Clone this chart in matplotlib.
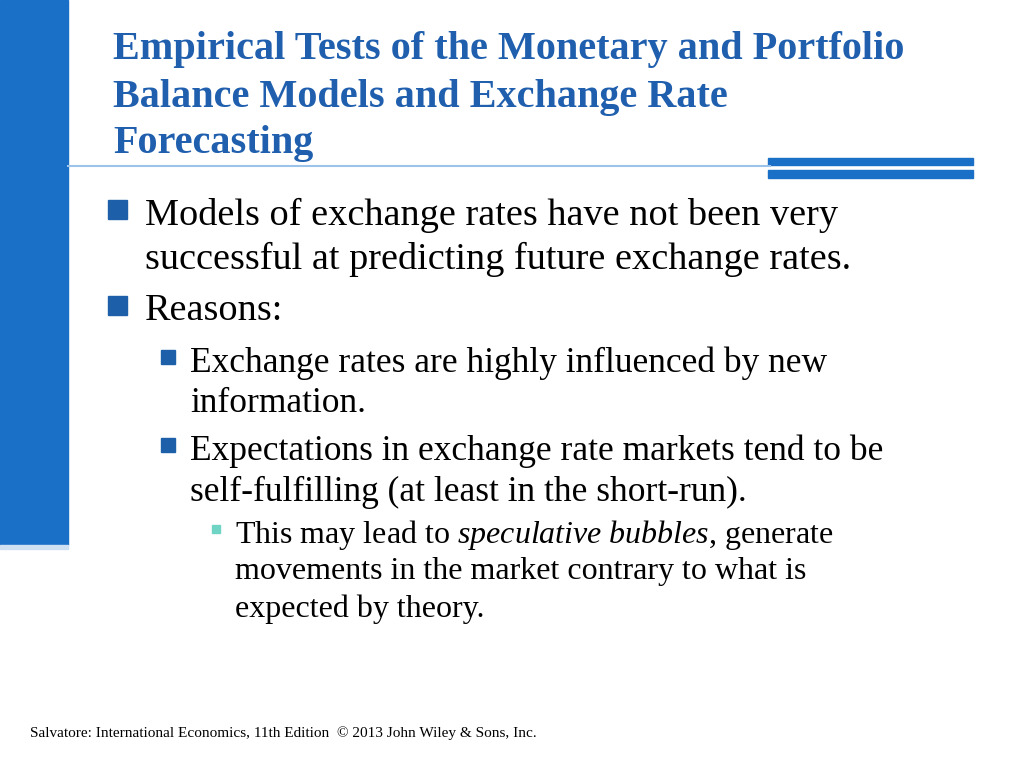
import matplotlib
matplotlib.use('Agg')
import matplotlib.pyplot as plt
from matplotlib.patches import Rectangle

title_lines = ["Empirical Tests of the Monetary and Portfolio",
               "Balance Models and Exchange Rate",
               "Forecasting"]
# (level, lines) per bullet
bullets = [
    (1, ["Models of exchange rates have not been very",
         "successful at predicting future exchange rates."]),
    (1, ["Reasons:"]),
    (2, ["Exchange rates are highly influenced by new",
         "information."]),
    (2, ["Expectations in exchange rate markets tend to be",
         "self-fulfilling (at least in the short-run)."]),
]
sub_bullet = ["This may lead to $\\it{speculative\\ bubbles}$, generate",
              "movements in the market contrary to what is",
              "expected by theory."]
footer = "Salvatore: International Economics, 11th Edition  \u00a9 2013 John Wiley & Sons, Inc."

plt.rcParams['font.family'] = ['Liberation Serif', 'DejaVu Serif']
plt.rcParams['mathtext.fontset'] = 'custom'
plt.rcParams['mathtext.it'] = 'Liberation Serif:italic'
plt.rcParams['mathtext.rm'] = 'Liberation Serif'

fig = plt.figure(figsize=(10.24, 7.68), dpi=100)
ax = fig.add_axes([0, 0, 1, 1])
ax.set_xlim(0, 1024)
ax.set_ylim(768, 0)
ax.axis('off')

# decorations
ax.add_patch(Rectangle((0, 0), 68, 545, color='#1a6fc6'))
ax.add_patch(Rectangle((0, 545), 68, 4, color='#cfe0f2'))
ax.plot([68, 770], [166, 166], color='#9cc3ea', lw=1.5)
ax.add_patch(Rectangle((768, 158), 205, 7, color='#1a6fc6'))
ax.add_patch(Rectangle((768, 170), 205, 8, color='#1a6fc6'))

title_color = '#1f5fae'
for i, line in enumerate(title_lines):
    ax.text(113, 50 + i * 47, line, fontsize=29, fontweight='bold',
            color=title_color, va='center')

# level settings: bullet x, text x, font size, line spacing, bullet size
levels = {1: (108, 145, 27.5, 44, 19), 2: (161, 190, 25.5, 41, 14)}
y = 215
for lvl, lines in bullets:
    bx, tx, fs, sp, bs = levels[lvl]
    ax.add_patch(Rectangle((bx, y - bs / 2 - 6), bs, bs, color='#1d5fa8'))
    for j, line in enumerate(lines):
        ax.text(tx, y + j * sp, line, fontsize=fs, va='center', color='black')
    y += len(lines) * sp + (8 if lvl == 1 else 6)

y = 535
ax.add_patch(Rectangle((212, y - 10), 8, 8, color='#6fd4c4'))
for j, line in enumerate(sub_bullet):
    ax.text(235, y + j * 37, line, fontsize=23, va='center', color='black')

ax.text(30, 733, footer, fontsize=11, va='center', color='black')

fig.savefig('out.png', dpi=100)
